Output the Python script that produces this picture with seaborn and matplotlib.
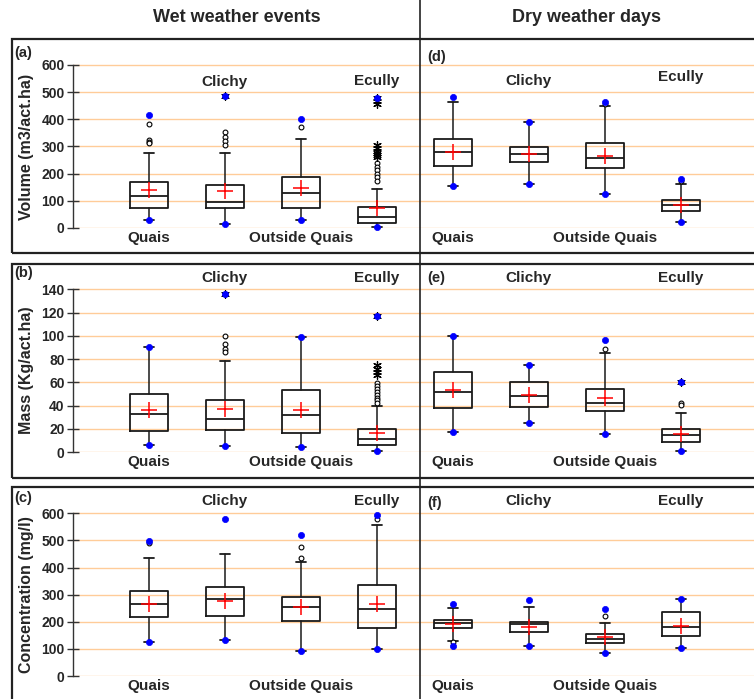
import pandas as pd
import matplotlib
matplotlib.use('Agg')
import matplotlib.pyplot as plt
from matplotlib.patches import Rectangle
from matplotlib.lines import Line2D
import seaborn as sns

# 8 boxes per row: 4 wet weather events, then 4 dry weather days
box_pos = [0, 1, 2, 3, 4, 5, 6, 7]
tick_pos = [0, 2, 4, 6]
tick_labels = ['Quais', 'Outside Quais', 'Quais', 'Outside Quais']
site_pos = [1, 3, 5, 7]
site_labels = ['Clichy', 'Ecully', 'Clichy', 'Ecully']

# Volume (m3/act.ha)
vol_q1 = [75, 75, 75, 20, 229, 242, 222, 63]
vol_med = [119, 96, 129, 39, 279, 273, 258, 85]
vol_q3 = [168, 160, 187, 78, 326, 299, 312, 102]
vol_lo = [31, 14, 31, 5, 156, 163, 125, 23]
vol_hi = [277, 277, 327, 142, 464, 389, 448, 161]
vol_mean = [141, 136, 146, 75, 281, 274, 265, 84]
vol_min = [31, 14, 31, 5, 156, 163, 125, 23]
vol_max = [416, 487, 401, 477, 482, 389, 464, 182]
vol_circles = [[382, 324, 318, 314], [352, 336, 320, 305], [373],
               [240, 226, 212, 200, 186, 173], [], [], [455], [172]]
vol_stars = [[], [487], [], [477, 468, 458, 305, 295, 285, 275, 268, 262],
             [], [], [], []]

# Mass (Kg/act.ha)
mass_q1 = [18, 19, 16, 6, 38, 39, 35, 9]
mass_med = [33, 28.5, 32, 11, 51.4, 48, 42, 15]
mass_q3 = [50, 45, 53, 19.5, 68.6, 60, 54.5, 20]
mass_lo = [6, 5, 4, 1, 17, 24.7, 15.5, 1]
mass_hi = [90, 78, 99, 40, 100, 75, 85, 33.6]
mass_mean = [36, 37, 36, 16, 53, 49, 46.5, 15.5]
mass_min = [6, 5, 4, 1, 17, 24.7, 15.5, 1]
mass_max = [90, 136, 99, 117, 100, 75, 96, 60]
mass_circles = [[], [99.6, 93.3, 88.6, 85.8], [],
                [59, 56.5, 54.5, 52, 49, 46.5, 44.5, 42], [], [], [89], [42, 40.5]]
mass_stars = [[], [136], [], [117, 74.6, 71.7, 69, 66], [], [], [], [60]]

# Concentration (mg/l)
conc_q1 = [218, 221, 203, 177, 177, 163, 120, 146]
conc_med = [264, 284, 253, 247, 194, 192, 138, 182]
conc_q3 = [312, 327, 292, 336, 208, 200, 156, 235]
conc_lo = [124, 132, 92, 98, 128, 112, 84, 102]
conc_hi = [436, 451, 420, 558, 252, 253, 194, 285]
conc_mean = [267, 278, 256, 266, 192, 182, 143, 186]
conc_min = [124, 132, 92, 98, 112, 112, 84, 102]
conc_max = [499, 579, 519, 595, 267, 280, 248, 285]
conc_circles = [[492], [], [476, 435], [580], [125], [], [220], []]
conc_stars = [[], [], [], [], [], [], [], []]

W, H = 754, 699
def fx(px):
    return px / W
def fy(py):
    return 1 - py / H

sns.set_theme(style='white')
plt.rcParams['font.family'] = ['Liberation Sans', 'DejaVu Sans']
plt.rcParams['font.weight'] = 'bold'

fig = plt.figure(figsize=(W / 100, H / 100), dpi=100)


def long_points(lists):
    rows = []
    for p, vals in zip(box_pos, lists):
        for v in vals:
            rows.append({'pos': p, 'val': v})
    return pd.DataFrame(rows, columns=['pos', 'val'])


def draw_row(ax, q1, med, q3, lo, hi, mean, vmin, vmax, circles, stars):
    stats = [dict(q1=a, med=b, q3=c, whislo=d, whishi=e, fliers=[])
             for a, b, c, d, e in zip(q1, med, q3, lo, hi)]
    line = dict(color='#1a1a1a', linewidth=1.3)
    ax.bxp(stats, positions=box_pos, widths=0.5, showfliers=False,
           capwidths=0.13, boxprops=line, medianprops=line,
           whiskerprops=dict(color='#1a1a1a', linewidth=1.1),
           capprops=dict(color='#1a1a1a', linewidth=1.3), manage_ticks=False)
    c_df = long_points(circles)
    if len(c_df):
        sns.scatterplot(data=c_df, x='pos', y='val', marker='o', color='white',
                        edgecolor='black', s=12, linewidth=0.8, ax=ax,
                        clip_on=False, zorder=4)
    s_df = long_points(stars)
    if len(s_df):
        sns.scatterplot(data=s_df, x='pos', y='val', marker=(6, 2, 0), color='black',
                        edgecolor='black', s=30, linewidth=0.9, ax=ax,
                        clip_on=False, zorder=4)
    ext = pd.DataFrame({'pos': box_pos * 2, 'val': vmin + vmax})
    sns.scatterplot(data=ext, x='pos', y='val', marker='o', color='#0000ff',
                    edgecolor='#0000ff', s=20, linewidth=0.5, ax=ax,
                    clip_on=False, zorder=5)
    m_df = pd.DataFrame({'pos': box_pos, 'val': mean})
    sns.scatterplot(data=m_df, x='pos', y='val', marker='+', color='red',
                    edgecolor='red', s=120, linewidth=1.1, ax=ax,
                    clip_on=False, zorder=6)


rows = [
    dict(bottom=228, top=39, scale=0.2717, ticks=range(0, 601, 100),
         label='Volume (m3/act.ha)', site_y=[537, 541, 541, 556],
         data=(vol_q1, vol_med, vol_q3, vol_lo, vol_hi, vol_mean, vol_min, vol_max,
               vol_circles, vol_stars)),
    dict(bottom=452, top=264, scale=1.162, ticks=range(0, 141, 20),
         label='Mass (Kg/act.ha)', site_y=[150, 150, 150, 150],
         data=(mass_q1, mass_med, mass_q3, mass_lo, mass_hi, mass_mean, mass_min,
               mass_max, mass_circles, mass_stars)),
    dict(bottom=676, top=487, scale=0.2711, ticks=range(0, 601, 100),
         label='Concentration (mg/l)', site_y=[647, 647, 647, 647],
         data=(conc_q1, conc_med, conc_q3, conc_lo, conc_hi, conc_mean, conc_min,
               conc_max, conc_circles, conc_stars)),
]

for r in rows:
    ax = fig.add_axes([fx(73), fy(r['bottom']), (W - 73) / W, (r['bottom'] - r['top']) / H])
    ax.patch.set_alpha(0)
    draw_row(ax, *r['data'])
    ymax = (r['bottom'] - r['top']) / r['scale']
    ax.set_ylim(0, ymax)
    ax.set_xlim((73 - 149) / 76, (W - 149) / 76)
    ticks = list(r['ticks'])
    ax.set_yticks(ticks)
    ax.yaxis.grid(True, color='#ffcc99', linewidth=1)
    ax.xaxis.grid(False)
    ax.set_axisbelow(True)
    for s in ['top', 'right', 'bottom']:
        ax.spines[s].set_visible(False)
    ax.spines['left'].set_color('#333333')
    ax.spines['left'].set_linewidth(1)
    ax.spines['left'].set_bounds(0, ticks[-1])
    ax.tick_params(axis='y', direction='inout', length=8, width=1, color='#333333',
                   labelsize=10, pad=2, left=True)
    ax.set_xticks(tick_pos)
    ax.set_xticklabels(tick_labels, fontsize=11, fontweight='bold')
    ax.tick_params(axis='x', length=0, pad=2)
    for lab in ax.get_yticklabels():
        lab.set_fontweight('bold')
    ax.set_xlabel('')
    ax.set_ylabel('')
    ax.text((26 - 73) / (W - 73), (ticks[-1] / 2) / ymax, r['label'],
            transform=ax.transAxes, rotation=90, ha='center', va='center',
            fontsize=11.5, fontweight='bold')
    for p, name, yv in zip(site_pos, site_labels, r['site_y']):
        ax.text(p, yv, name, ha='center', va='center', fontsize=11,
                fontweight='bold', clip_on=False)

# panel frames, divider and titles
for top, bottom in [(39, 253), (264, 478), (487, 720)]:
    fig.add_artist(Rectangle((fx(12), fy(bottom)), (W + 20) / W, (bottom - top) / H,
                             transform=fig.transFigure, fill=False,
                             edgecolor='#222222', linewidth=1.6))
fig.add_artist(Line2D([fx(420), fx(420)], [0, 1], transform=fig.transFigure,
                      color='#222222', linewidth=1.2))

fig.text(fx(237), fy(18), 'Wet weather events', ha='center', va='center',
         fontsize=13, fontweight='bold')
fig.text(fx(587), fy(18), 'Dry weather days', ha='center', va='center',
         fontsize=13, fontweight='bold')

for letter, x, y in [('(a)', 14, 53), ('(b)', 14, 273), ('(c)', 14, 498),
                     ('(d)', 427, 57), ('(e)', 427, 278), ('(f)', 427, 503)]:
    fig.text(fx(x), fy(y), letter, ha='left', va='center', fontsize=10.5,
             fontweight='bold')

fig.savefig('out.png', dpi=100)
